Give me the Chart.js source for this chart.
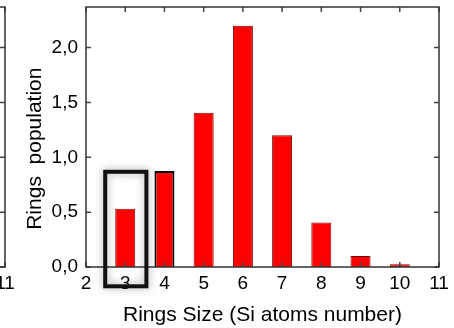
<!DOCTYPE html>
<html>
<head>
<meta charset="utf-8">
<script src="https://cdn.jsdelivr.net/npm/chart.js@4/dist/chart.umd.min.js"></script>
<style>
  html, body { margin:0; padding:0; background:#fff; overflow:hidden; }
  #wrap { position:relative; width:454px; height:328px; overflow:hidden; }
  #left { position:absolute; left:-434px; top:0; z-index:0; }
  #main { position:absolute; left:0; top:0; z-index:1; }
</style>
</head>
<body>
<div id="wrap">
  <canvas id="left" width="454" height="328"></canvas>
  <canvas id="main" width="454" height="328"></canvas>
</div>
<script>
// ---- data ----
const sizes = [3, 4, 5, 6, 7, 8, 9, 10];
const population = [0.53, 0.875, 1.405, 2.2, 1.2, 0.405, 0.1, 0.025];
const xTicks = [2, 3, 4, 5, 6, 7, 8, 9, 10, 11];
const yTicks = [0, 0.5, 1.0, 1.5, 2.0];
const xRange = [2, 11];
const yRange = [0, 2.37];
// highlight box around ring size 3 (data units)
const boxX = [2.49, 3.54];
const boxY = [-0.176, 0.868];

const FONT = '"Liberation Sans", Arial, Helvetica, sans-serif';

const framePlugin = {
  id: 'frame',
  afterDatasetsDraw(chart) {
    const { ctx, chartArea: a, scales: { x, y } } = chart;
    const L = 5;
    ctx.save();
    ctx.strokeStyle = '#444';
    ctx.lineWidth = 1.5;
    ctx.beginPath();
    x.ticks.forEach(t => {
      const px = x.getPixelForValue(t.value);
      ctx.moveTo(px, a.bottom); ctx.lineTo(px, a.bottom - L);
      ctx.moveTo(px, a.top); ctx.lineTo(px, a.top + L);
    });
    y.ticks.forEach(t => {
      const py = y.getPixelForValue(t.value);
      ctx.moveTo(a.left, py); ctx.lineTo(a.left + L, py);
      ctx.moveTo(a.right, py); ctx.lineTo(a.right - L, py);
    });
    ctx.stroke();
    ctx.strokeStyle = '#333';
    ctx.strokeRect(a.left, a.top, a.right - a.left, a.bottom - a.top);
    ctx.restore();
  }
};

const boxPlugin = {
  id: 'hlbox',
  afterDraw(chart) {
    const { ctx, scales: { x, y } } = chart;
    const x0 = x.getPixelForValue(boxX[0]), x1 = x.getPixelForValue(boxX[1]);
    const y0 = y.getPixelForValue(boxY[1]), y1 = y.getPixelForValue(boxY[0]);
    ctx.save();
    ctx.shadowColor = 'rgba(0,0,0,0.35)';
    ctx.shadowBlur = 8;
    ctx.strokeStyle = '#111';
    ctx.lineWidth = 4;
    ctx.strokeRect(x0, y0, x1 - x0, y1 - y0);
    ctx.restore();
  }
};

function makeOptions() {
  return {
    responsive: false,
    animation: false,
    events: [],
    layout: { padding: { top: 7, right: 15, left: 0, bottom: 0 } },
    plugins: { legend: { display: false }, tooltip: { enabled: false } },
    scales: {
      x: {
        type: 'linear',
        min: xRange[0], max: xRange[1],
        offset: false,
        grid: { display: false, offset: false, drawTicks: false },
        border: { display: false },
        afterBuildTicks: ax => { ax.ticks = xTicks.map(v => ({ value: v })); },
        afterFit: ax => { ax.height = 61; ax.paddingLeft = 0; ax.paddingRight = 0; },
        ticks: { color: '#000', padding: 5, font: { family: FONT, size: 19 }, maxRotation: 0, autoSkip: false,
                 callback: v => String(v) },
        title: { display: true, text: 'Rings Size (Si atoms number)', color: '#000',
                 font: { family: FONT, size: 21 }, padding: { top: 0, bottom: 0 } }
      },
      y: {
        min: yRange[0], max: yRange[1],
        grid: { display: false, drawTicks: false },
        border: { display: false },
        afterBuildTicks: ax => { ax.ticks = yTicks.map(v => ({ value: v })); },
        afterFit: ax => { ax.width = 86; ax.paddingTop = 0; ax.paddingBottom = 0; },
        ticks: { color: '#000', padding: 8, font: { family: FONT, size: 19 },
                 callback: v => Number(v).toFixed(1).replace('.', ',') },
        title: { display: true, text: 'Rings  population    ', color: '#000',
                 font: { family: FONT, size: 21 }, padding: { top: 23, bottom: 0 } }
      }
    }
  };
}

new Chart(document.getElementById('left'), {
  type: 'bar',
  data: { datasets: [{ data: [] }] },
  options: makeOptions(),
  plugins: [framePlugin]
});

new Chart(document.getElementById('main'), {
  type: 'bar',
  data: {
    datasets: [{
      data: sizes.map((s, i) => ({ x: s, y: population[i] })),
      backgroundColor: '#ff0000',
      borderColor: sizes.map(s => s === 4 ? '#000' : '#7a0000'),
      borderWidth: sizes.map(s => s === 4 ? 2 : 1),
      barPercentage: 0.51,
      categoryPercentage: 1.0
    }]
  },
  options: makeOptions(),
  plugins: [framePlugin, boxPlugin]
});
</script>
</body>
</html>
